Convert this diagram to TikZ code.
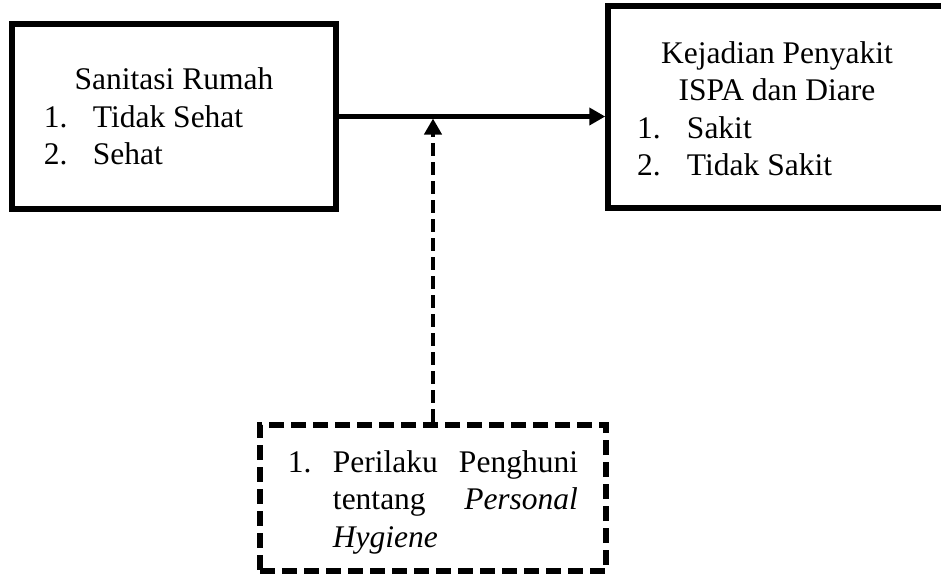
\documentclass[tikz,border=0pt]{standalone}
\usepackage{fontspec}
\setmainfont{Liberation Serif}
\usepackage{array}
\usetikzlibrary{arrows.meta}
\usetikzlibrary{positioning}

\begin{document}
\begin{tikzpicture}[
    x=0.4pt, y=-0.4pt,
    >={Triangle[length=6.4pt, width=6.8pt]},
    varbox/.style = {
        rectangle,
        inner sep=0pt,
        line width=2.2pt,
        font=\fontsize{12.6}{15}\selectfont,
        draw=black,
      },
    modbox/.style = {
        varbox,
        line width=2.5pt,
        dash pattern=on 6pt off 2.8pt,
      },
    link/.style = {
        line width=1.8pt,
      },
    ]
    \clip (0,0) rectangle (941,575);
    \node (sanitasi) [varbox, minimum width=129.6pt, minimum height=74pt] at (174,116.5)
        {\raisebox{-1.2pt}[\height][\depth]{\begin{tabular}{@{}p{19.6pt}@{}p{84.4pt}@{}}
           \multicolumn{2}{@{}c@{}}{Sanitasi Rumah}\\
           1. & Tidak Sehat\\
           2. & Sehat
         \end{tabular}}};
    \node (kejadian) [varbox, minimum width=135.2pt, minimum height=80.8pt] at (777,107)
        {\raisebox{-2pt}[\height][\depth]{\begin{tabular}{@{}p{20pt}@{}p{92pt}@{}}
           \multicolumn{2}{@{}c@{}}{Kejadian Penyakit}\\
           \multicolumn{2}{@{}c@{}}{ISPA dan Diare}\\
           1. & Sakit\\
           2. & Tidak Sakit
         \end{tabular}}};
    \node (perilaku) [modbox, minimum width=138.4pt, minimum height=58.4pt] at (433,498)
        {\raisebox{-1.6pt}[\height][\depth]{\begin{tabular}{@{}p{18pt}@{}p{98pt}@{}}
           1. & Perilaku\hfill Penghuni\\
              & tentang\hfill \textit{Personal}\\
              & \textit{Hygiene}
         \end{tabular}}};
    \coordinate (meet) at (perilaku.north |- sanitasi.east);

    \draw [->, link] (sanitasi.east) -- (sanitasi.east -| kejadian.west);
    \draw [->, link, dash pattern=on 5.2pt off 2.4pt, shorten >=0.8pt] (perilaku.north) -- (meet);
  \end{tikzpicture}
\end{document}
